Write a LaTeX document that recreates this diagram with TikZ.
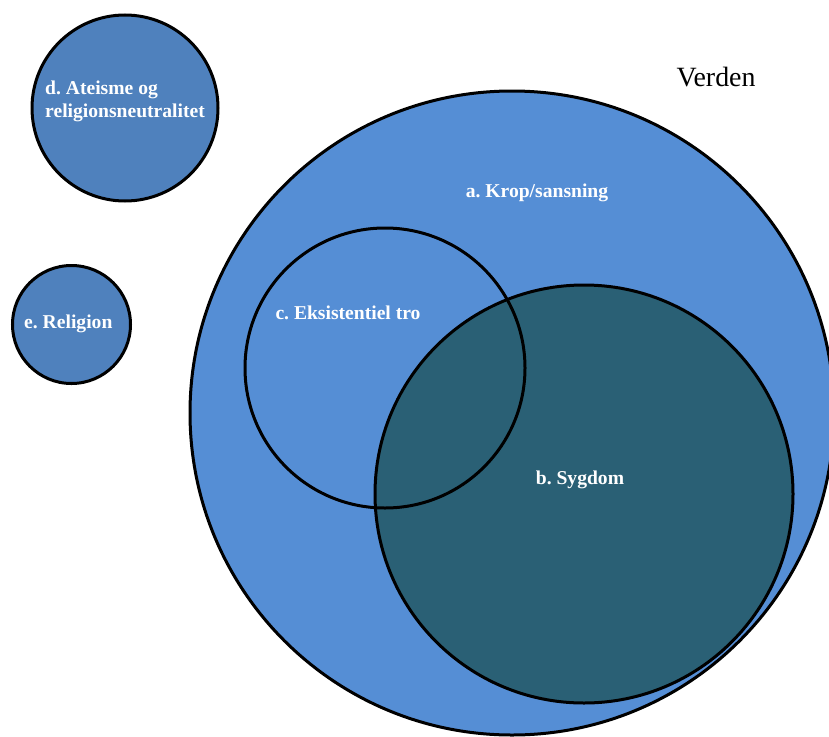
\documentclass[tikz,border=0pt]{standalone}
\usepackage{fontspec}
\setmainfont{Liberation Serif}
\frenchspacing
\definecolor{worldblue}{HTML}{558ED5}
\definecolor{sideblue}{HTML}{4F81BD}
\definecolor{illteal}{HTML}{2A6075}
\tikzset{
  ring/.style={circle, draw=black, line width=3pt, inner sep=0pt},
  tag/.style={text=white, font=\fontsize{19.6}{23.5}\selectfont\bfseries, inner sep=0pt},
}
\begin{document}
\begin{tikzpicture}[x=1pt, y=-1pt]
  \useasboundingbox (0,0) rectangle (829,736);
  \clip (0,0) rectangle (829,736);
  % outer world circle and its inner sets
  \node[ring, fill=worldblue, minimum size=644pt] (krop) at (512,413) {};
  \node[circle, fill=worldblue, inner sep=0pt, minimum size=280pt] (trofill) at (385,368) {};
  \node[ring, fill=illteal, minimum size=418pt] (sygdom) at (584,494) {};
  \node[ring, minimum size=280pt] (tro) at (385,368) {};
  % separate circles on the left
  \node[ring, fill=sideblue, minimum size=186pt] (ateisme) at (125,108) {};
  \node[ring, fill=sideblue, minimum size=118pt] (religion) at (71.5,324.5) {};
  % labels
  \node[tag, anchor=west, align=left] (tagd) at (45,101.5) {d. Ateisme og\\religionsneutralitet};
  \node[tag, anchor=west] (tage) at (24,324) {e. Religion};
  \node[tag] (taga) at (537,193) {a. Krop/sansning};
  \node[tag] (tagc) at (348,313) {c. Eksistentiel tro};
  \node[tag] (tagb) at (580,480) {b. Sygdom};
  \node[font=\fontsize{27.9}{33}\selectfont, inner sep=0pt] (verden) at (716,77) {Verden};
\end{tikzpicture}
\end{document}
